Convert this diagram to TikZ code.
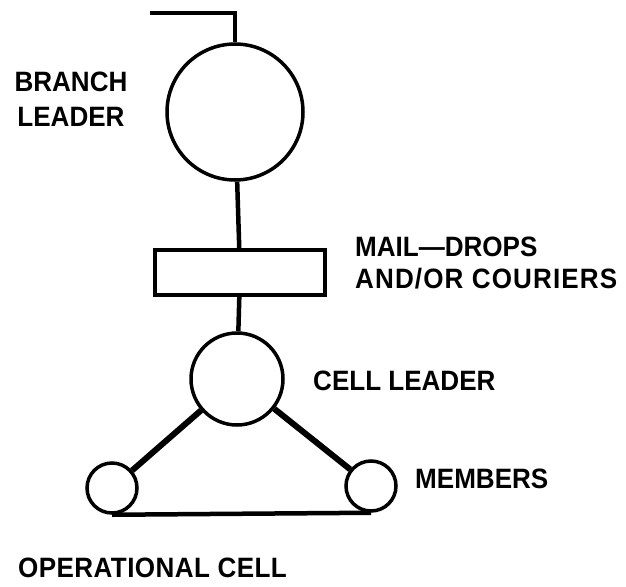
\documentclass[tikz,border=0pt]{standalone}
\usepackage{fontspec}
\setmainfont{Liberation Sans}[FakeStretch=0.93]
\usepackage{tikz}
\usetikzlibrary{positioning}

\begin{document}
\begin{tikzpicture}[x=1pt,y=-1pt,
  unit/.style={draw,circle,line width=3.5pt,inner sep=0pt},
  lbl/.style={font=\bfseries\fontsize{28}{33}\selectfont,inner sep=0pt},
  link/.style={line width=4.5pt}]
  \useasboundingbox (0,0) rectangle (626,586);
  % cells and the drop box
  \node[unit,minimum size=136pt] (branch) at (235,112) {};
  \node[draw,line width=3.5pt,minimum width=170pt,minimum height=45pt,inner sep=0pt] (drops) at (240,272.5) {};
  \node[unit,minimum size=92pt] (cell) at (237,379) {};
  \node[unit,minimum size=50pt] (memA) at (112,488) {};
  \node[unit,minimum size=50pt] (memB) at (371,486) {};
  \coordinate (feed) at (150,13);
  \draw[link] (feed) -| (branch);
  \draw[link] (branch) -- (drops);
  \draw[link] (drops) -- (cell);
  \draw[link,line width=6pt] (cell) -- (memA);
  \draw[link,line width=6pt] (cell) -- (memB);
  \draw[link] (memA.south) -- (memB.south);
  % labels
  \node[lbl,align=center,font=\bfseries\fontsize{28}{35}\selectfont,anchor=north] (branchtxt) at (71,72) {BRANCH\\LEADER};
  \node[lbl,align=left,font=\bfseries\fontsize{28}{32}\selectfont,anchor=north west] (dropstxt) at (355,237)
    {MAIL—DROPS\\{\addfontfeature{LetterSpace=4}AND/OR COURIERS}};
  \node[lbl,anchor=base west] (celltxt) at (313,390) {CELL LEADER};
  \node[lbl,anchor=base west] (memtxt) at (415,488) {MEMBERS};
  \node[lbl,anchor=base west] (optxt) at (18,577) {\addfontfeature{LetterSpace=1.5}OPERATIONAL CELL};
\end{tikzpicture}
\end{document}
